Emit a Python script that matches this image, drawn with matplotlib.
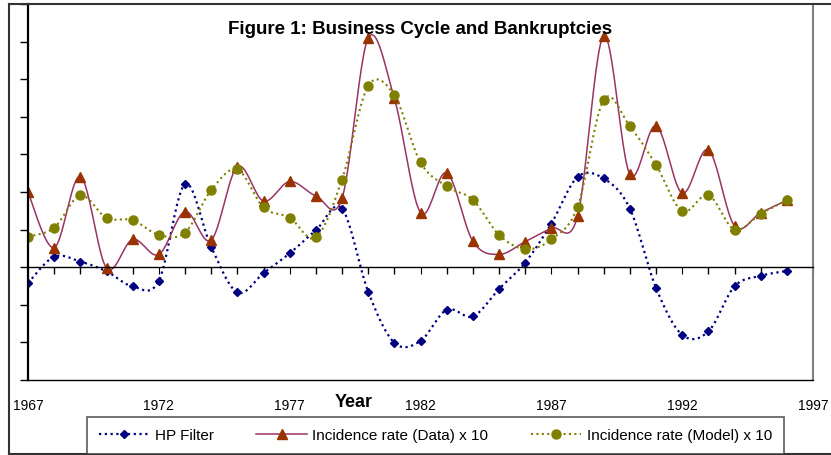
import numpy as np
import matplotlib
matplotlib.use("Agg")
import matplotlib.pyplot as plt
from matplotlib.lines import Line2D

plt.rcParams['font.family'] = ['Liberation Sans', 'DejaVu Sans']

years = list(range(1967, 1997))
hp_filter = [-0.42, 0.28, 0.15, -0.11, -0.51, -0.36, 2.21, 0.54, -0.67, -0.16,
             0.37, 0.98, 1.56, -0.65, -2.01, -1.96, -1.13, -1.31, -0.58, 0.12,
             1.16, 2.40, 2.36, 1.56, -0.55, -1.80, -1.71, -0.51, -0.23, -0.10]
rate_data = [1.99, 0.52, 2.41, -0.02, 0.74, 0.34, 1.48, 0.72, 2.67, 1.76,
             2.28, 1.90, 1.83, 6.09, 4.49, 1.45, 2.51, 0.69, 0.34, 0.68,
             1.04, 1.35, 6.15, 2.47, 3.76, 1.97, 3.12, 1.10, 1.45, 1.78]
rate_model = [0.81, 1.05, 1.91, 1.31, 1.25, 0.86, 0.92, 2.05, 2.60, 1.59,
              1.32, 0.79, 2.33, 4.82, 4.57, 2.79, 2.15, 1.79, 0.86, 0.48,
              0.74, 1.60, 4.45, 3.75, 2.72, 1.49, 1.92, 1.00, 1.42, 1.78]
year_ticks = list(range(1967, 1998, 5))


# excel style smoothed line (bezier with catmull-rom control points)
def smooth(x, y, steps=24):
    x = np.asarray(x, float)
    y = np.asarray(y, float)
    xs, ys = [x[0]], [y[0]]
    n = len(x)
    for i in range(n - 1):
        p0 = np.array([x[max(i - 1, 0)], y[max(i - 1, 0)]])
        p1 = np.array([x[i], y[i]])
        p2 = np.array([x[i + 1], y[i + 1]])
        p3 = np.array([x[min(i + 2, n - 1)], y[min(i + 2, n - 1)]])
        c1 = p1 + (p2 - p0) / 6
        c2 = p2 - (p3 - p1) / 6
        t = np.linspace(0, 1, steps)[1:, None]
        pts = ((1 - t) ** 3) * p1 + 3 * ((1 - t) ** 2) * t * c1 + 3 * (1 - t) * t ** 2 * c2 + t ** 3 * p2
        xs.extend(pts[:, 0])
        ys.extend(pts[:, 1])
    return xs, ys


fig = plt.figure(figsize=(8.31, 4.56), dpi=100)
W, H = 831, 456
ax = fig.add_axes([28 / W, (H - 381) / H, (813 - 28) / W, (381 - 5) / H])

navy = '#000080'
plum = '#993366'
brown = '#993300'
olive = '#808000'

sx, sy = smooth(years, hp_filter)
ax.plot(sx, sy, color=navy, lw=1.6, linestyle=(0, (1, 1.6)))
ax.plot(years, hp_filter, 'D', color=navy, ms=4.5, ls='none')

sx, sy = smooth(years, rate_data)
ax.plot(sx, sy, color=plum, lw=1.1)
ax.plot(years, rate_data, '^', color=brown, ms=7, ls='none')

sx, sy = smooth(years, rate_model)
ax.plot(sx, sy, color=olive, lw=1.5, linestyle=(0, (1, 1.6)))
ax.plot(years, rate_model, 'o', color=olive, ms=6.5, ls='none')

ax.set_xlim(1967, 1997)
ax.set_ylim(-3, 7)

# zero axis carries the year tick marks
ax.spines['top'].set_position(('data', 0))
ax.spines['top'].set_linewidth(1.0)
ax.spines['left'].set_linewidth(1.6)
ax.spines['bottom'].set_linewidth(1.0)
ax.spines['right'].set_color('#808080')
ax.spines['right'].set_linewidth(1.5)

ax.set_xticks(year_ticks)
ax.set_xticks(years + [1997], minor=True)
ax.tick_params(axis='x', which='major', bottom=False, top=True, length=5,
               direction='in', labelbottom=True, labeltop=False, pad=13,
               labelsize=10)
ax.tick_params(axis='x', which='minor', bottom=False, top=True, length=5,
               direction='in', width=1)
ax.set_yticks(range(-3, 8))
ax.tick_params(axis='y', which='major', length=6, direction='out', width=1,
               labelleft=False, right=False)
# bottom labels without marks
for t in ax.xaxis.get_major_ticks():
    t.tick1line.set_visible(False)
    t.label1.set_visible(True)

fig.text(420 / W, (H - 30) / H, 'Figure 1: Business Cycle and Bankruptcies',
         ha='center', va='center', fontsize=13.5, fontweight='bold')
fig.text(353.5 / W, (H - 403) / H, 'Year', ha='center', va='center',
         fontsize=13, fontweight='bold')

# chart border
for xy in [([8.5, 8.5], [4.5, 455]), ([8.5, 831], [4.5, 4.5]), ([8.5, 831], [455, 455])]:
    fig.add_artist(Line2D([v / W for v in xy[0]], [(H - v) / H for v in xy[1]],
                          color='#333333', lw=1.5))

handles = [
    Line2D([], [], color=navy, lw=1.6, linestyle=(0, (1, 1.6)), marker='D', ms=4.5),
    Line2D([], [], color=plum, lw=1.1, marker='^', ms=7, mfc=brown, mec=brown),
    Line2D([], [], color=olive, lw=1.5, linestyle=(0, (1, 1.6)), marker='o', ms=6.5),
]
labels = ['HP Filter', 'Incidence rate (Data) x 10', 'Incidence rate (Model) x 10']
leg = fig.legend(handles, labels, loc='center', ncol=3,
                 bbox_to_anchor=(435.5 / W, (H - 436.5) / H), fontsize=11,
                 frameon=True, fancybox=False, edgecolor='#333333',
                 handlelength=3.3, handletextpad=0.35, columnspacing=2.8,
                 borderpad=0.75, borderaxespad=0)
leg.get_frame().set_linewidth(1.2)

fig.savefig('out.png', dpi=100)
